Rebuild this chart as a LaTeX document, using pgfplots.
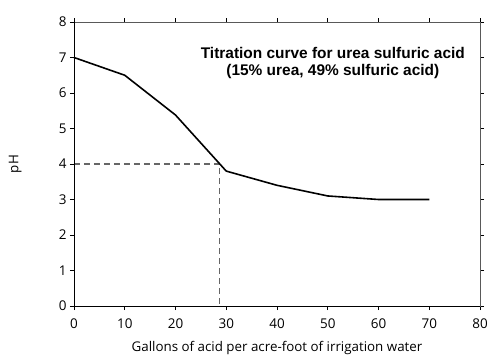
\documentclass[border=0pt]{standalone}
\usepackage{fontspec}
\setmainfont{Open Sans}
\newfontfamily\titlefont{Liberation Sans}
\usepackage{pgfplots}
\pgfplotsset{compat=1.18}
\begin{document}
\begin{tikzpicture}
\useasboundingbox (-74bp,-54bp) rectangle (430bp,306bp);
\begin{axis}[
  at={(0,0)}, anchor=south west,
  scale only axis,
  width=406bp, height=284bp,
  xmin=0, xmax=80, ymin=0, ymax=8,
  xtick={0,10,...,80}, ytick={0,1,...,8},
  tick align=outside,
  major tick length=4bp,
  tick style={black, line width=0.6pt},
  x tick label style={yshift=-5bp},
  /pgf/number format/assume math mode=true,
  tick label style={font=\fontsize{13.5}{15}\selectfont},
  axis line style={draw=black!65, line width=0.5pt},
  xlabel={Gallons of acid per acre-foot of irrigation water},
  ylabel={pH},
  label style={font=\fontsize{13.4}{15}\selectfont},
  xlabel style={at={(axis description cs:0.5,0)}, anchor=center, yshift=-42bp},
  ylabel style={at={(axis description cs:-0.145,0.5)}, anchor=center},
  clip=false,
]
\addplot[black!60, dashed, line width=1.1pt, dash pattern=on 6bp off 4bp] coordinates {(0,4) (28.7,4) (28.7,0)};
\addplot[black, line width=1.6pt] coordinates {
(0,7) (10,6.5) (20,5.38) (30,3.8) (40,3.4) (50,3.1) (60,3.0) (70,3.0)};
\draw[black, line width=0.8pt] (axis cs:0,0) -- (axis cs:0,8);
\draw[black, line width=0.8pt] (axis cs:0,0) -- (axis cs:80,0);
\node[font=\titlefont\bfseries\fontsize{15.5}{17}\selectfont, align=center] at (axis cs:51,6.85) {Titration curve for urea sulfuric acid\\(15\% urea, 49\% sulfuric acid)};
\end{axis}
\end{tikzpicture}
\end{document}
